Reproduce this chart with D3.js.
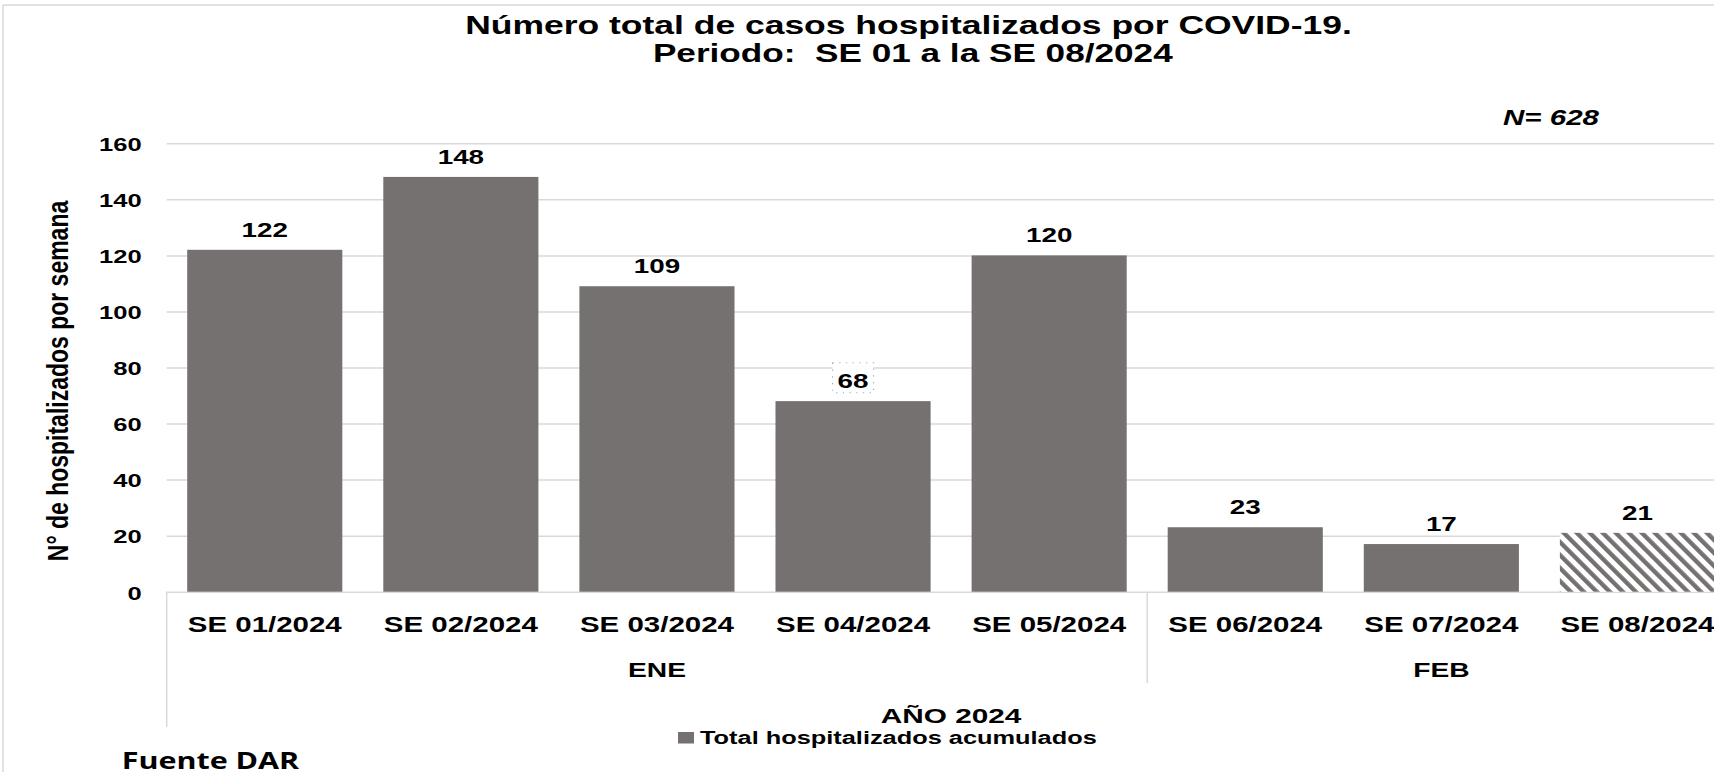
<!DOCTYPE html>
<html><head><meta charset="utf-8">
<script src="https://cdn.jsdelivr.net/npm/d3@7"></script>
<style>html,body{margin:0;padding:0;background:#fff;overflow:hidden} text{white-space:pre}</style>
</head><body>
<script>
const categories = ["SE 01/2024","SE 02/2024","SE 03/2024","SE 04/2024","SE 05/2024","SE 06/2024","SE 07/2024","SE 08/2024"];
const values = [122,148,109,68,120,23,17,21];
const hatched = [false,false,false,false,false,false,false,true];
const months = ["ENE","FEB"];
const monthSpans = [[0,4],[5,7]];
const yTicks = [0,20,40,60,80,100,120,140,160];
const titleLines = ["Número total de casos hospitalizados por COVID-19.","Periodo:  SE 01 a la SE 08/2024"];
const seriesName = "Total hospitalizados acumulados";
const yearLabel = "AÑO 2024";
const nLabel = "N= 628";
const yTitle = "N° de hospitalizados por semana";
const sourceLabel = "Fuente DAR";

const W = 1714, H = 772;
const BAR = "#767171", GRID = "#d9d9d9";
const FONT = "'Liberation Sans', Arial, sans-serif";

const svg = d3.select("body").append("svg").attr("width", W).attr("height", H);
svg.append("rect").attr("width", W).attr("height", H).attr("fill", "#fff");

const meas = svg.append("text").attr("visibility","hidden").style("white-space","pre");
function measure(str, size, weight, family, style){
  meas.text(str).attr("font-size", size).attr("font-weight", weight||"bold")
      .attr("font-family", family||FONT).attr("font-style", style||"normal");
  return meas.node().getComputedTextLength();
}
function addText(parent, str, o){
  return parent.append("text").text(str).style("white-space","pre")
    .attr("transform", `translate(${o.x},${o.y}) scale(${o.sx||1},1)${o.rot?` rotate(${o.rot})`:""}`)
    .attr("font-size", o.size).attr("font-weight", o.weight||"bold")
    .attr("font-family", o.family||FONT).attr("font-style", o.style||"normal")
    .attr("text-anchor", o.anchor||"start").attr("fill", o.fill||"#000");
}

// chart border
svg.append("line").attr("x1",3).attr("x2",W).attr("y1",5).attr("y2",5).attr("stroke",GRID).attr("stroke-width",1.5);
svg.append("line").attr("x1",3).attr("x2",3).attr("y1",5).attr("y2",H).attr("stroke",GRID).attr("stroke-width",1.5);

const x0 = 166.7, step = 196.1;
const x = d3.scaleBand().domain(categories).range([x0, x0 + step*categories.length])
  .paddingInner(0.209).paddingOuter(0.1045);
const y = d3.scaleLinear().domain([0,160]).range([591.7,143.3]);

const defs = svg.append("defs");
const pat = defs.append("pattern").attr("id","hatch").attr("patternUnits","userSpaceOnUse")
  .attr("width",9.2).attr("height",9.2).attr("patternTransform","rotate(-45)");
pat.append("rect").attr("width",9.2).attr("height",9.2).attr("fill","#fff");
pat.append("rect").attr("width",4.4).attr("height",9.2).attr("fill",BAR);

const grid = svg.append("g").attr("transform",`translate(${x0},0)`)
  .call(d3.axisRight(y).tickValues(yTicks).tickSize(W - x0).tickFormat(""));
grid.select(".domain").remove();
grid.selectAll("line").attr("stroke",GRID).attr("stroke-width",1.5);

const tickSX = 42.7 / measure("160", 18.6);
const yAxis = svg.append("g").attr("transform","translate(141.7,0)")
  .call(d3.axisLeft(y).tickValues(yTicks).tickSize(0).tickPadding(0));
yAxis.select(".domain").remove();
yAxis.selectAll("text").attr("x",null).attr("dy",null)
  .attr("transform",`translate(0,7.3) scale(${tickSX},1)`)
  .attr("font-size",18.6).attr("font-weight","bold").attr("font-family",FONT).attr("fill","#000");

svg.append("g").selectAll("rect").data(categories).join("rect")
  .attr("x", d => x(d)).attr("width", x.bandwidth())
  .attr("y", (d,i) => y(values[i])).attr("height", (d,i) => y(0) - y(values[i]))
  .attr("fill", (d,i) => hatched[i] ? "url(#hatch)" : BAR);

const iSel = values.indexOf(68);
const cxSel = x(categories[iSel]) + x.bandwidth()/2;
svg.append("rect").attr("x", cxSel - 20.5).attr("y", y(values[iSel]) - 38.4).attr("width", 41).attr("height", 30)
  .attr("fill","#fff").attr("stroke","#8eaadb").attr("stroke-width",1.2).attr("stroke-dasharray","1.2,5.5");

const lblSX = 46.4 / measure("122", 20);
const lbl = svg.append("g");
categories.forEach((c,i) => {
  addText(lbl, String(values[i]), {x: x(c) + x.bandwidth()/2, y: y(values[i]) - 13, size: 20, sx: lblSX, anchor: "middle"});
});

const catSX = 154 / measure("SE 06/2024", 22);
const xAxis = svg.append("g").attr("transform",`translate(0,${y(0)})`)
  .call(d3.axisBottom(x).tickSize(0).tickPadding(0));
xAxis.select(".domain").remove();
xAxis.selectAll("text").attr("y",null).attr("dy",null)
  .attr("transform",`translate(0,40) scale(${catSX},1)`)
  .attr("font-size",22).attr("font-weight","bold").attr("font-family",FONT).attr("fill","#000");

const bottomY = y(0);
svg.append("line").attr("x1",x0).attr("x2",x0).attr("y1",bottomY).attr("y2",727).attr("stroke",GRID).attr("stroke-width",1.5);
const sepX = x0 + step*monthSpans[1][0];
svg.append("line").attr("x1",sepX).attr("x2",sepX).attr("y1",bottomY).attr("y2",683).attr("stroke",GRID).attr("stroke-width",1.5);

const monSX = 58 / measure("ENE", 21);
months.forEach((m,i) => {
  const a = x0 + step*monthSpans[i][0], b = x0 + step*(monthSpans[i][1]+1);
  addText(svg, m, {x:(a+b)/2, y:676.7, size:21, sx:monSX, anchor:"middle"});
});
const xEnd = x0 + step*categories.length;
addText(svg, yearLabel, {x:(x0+xEnd)/2, y:722.7, size:20, sx:140.7/measure(yearLabel,20), anchor:"middle"});

svg.append("rect").attr("x",678).attr("y",732).attr("width",16).attr("height",11.5).attr("fill",BAR);
addText(svg, seriesName, {x:700, y:744.3, size:18.5, sx:397/measure(seriesName,18.5)});

addText(svg, titleLines[0], {x:908.5, y:33.5, size:25, sx:887/measure(titleLines[0],25), anchor:"middle"});
addText(svg, titleLines[1], {x:912.8, y:61.5, size:25, sx:520/measure(titleLines[1],25), anchor:"middle"});

addText(svg, nLabel, {x:1503, y:125, size:22, style:"italic", sx:96/measure(nLabel,22,"bold",FONT,"italic")});

addText(svg, yTitle, {x:68.3, y:381, size:23, sx:1.25, rot:-90, anchor:"middle"});

addText(svg, sourceLabel, {x:121.7, y:769, size:24, weight:700, family:"'Open Sans', sans-serif",
  sx:177.6/measure(sourceLabel,24,700,"'Open Sans', sans-serif")});
</script>
</body></html>
